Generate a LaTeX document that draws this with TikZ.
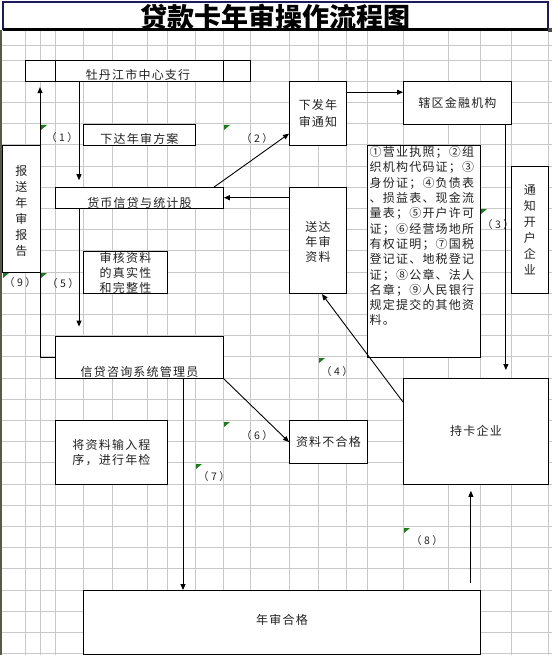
\documentclass[tikz,border=0pt]{standalone}
\usepackage{fontspec}
\setmainfont{Noto Sans CJK SC}
\newfontfamily\bodyfam[LetterSpace=10]{Noto Sans CJK SC}
\newfontfamily\titlefam{Noto Sans CJK SC}
\usetikzlibrary{arrows.meta,calc}
\definecolor{gridc}{HTML}{C8C8C8}
\definecolor{navyc}{HTML}{1C1C5C}
\definecolor{markc}{HTML}{1E7A1E}
\definecolor{txtc}{HTML}{222222}
\definecolor{edgec}{HTML}{5A5A44}
\newcommand\stepno[1]{（\kern2.5pt#1\kern2.5pt）}
\begin{document}
\begin{tikzpicture}[x=1pt,y=-1pt,
  box/.style={draw=black,line width=0.9pt,fill=white,inner sep=0pt,anchor=north west},
  txt/.style={text=txtc,font=\bodyfam\fontsize{12}{15.5}\selectfont,align=center,inner sep=0pt},
  num/.style={text=txtc,font=\fontsize{10.5}{12}\selectfont,inner sep=0pt},
  arr/.style={draw=black,line width=0.9pt,-{Triangle[length=6pt,width=5pt]}},
  cmark/.style={fill=markc},
  gridline/.style={draw=gridc,line width=0.8pt}]
\useasboundingbox (0,0) rectangle (552,655);
\fill[white] (0,0) rectangle (552,655);
% grid
\foreach \cx in {25,40,55,83,112,147,167,195,223,250,289,318,346,367,403,448,480,511,548}
  \draw[gridline] (\cx,30) -- (\cx,655);
\draw[gridline] (2,45) -- (552,45);
\foreach \k in {0,...,28}
  \draw[gridline] (2,{60+21.2*\k}) -- (552,{60+21.2*\k});
\draw[edgec,line width=1.5pt] (1,30) -- (1,655);
% title
\draw[navyc,line width=2pt] (3,2) rectangle (548,29.5);
\draw[black,line width=2.5pt] (3,29.5) -- (549,29.5);
\fill[black!70] (548,28) rectangle (552,32);
\node[font=\titlefam\bfseries\fontsize{27}{28}\selectfont,text=black,inner sep=0pt] (title) at (275,17) {贷款卡年审操作流程图};
% boxes
\node[box,minimum width=225pt,minimum height=21.2pt] (zhihang) at (25,60) {};
\draw[line width=0.9pt] ([xshift=30pt]zhihang.north west) -- ([xshift=30pt]zhihang.south west);
\draw[line width=0.9pt] ([xshift=-27pt]zhihang.north east) -- ([xshift=-27pt]zhihang.south east);
\node[txt] (zhihangt) at ([yshift=-3.5pt]zhihang.center) {牡丹江市中心支行};
\node[box,minimum width=112pt,minimum height=21.2pt] (xiada) at (83,123.6) {};
\node[txt] (xiadat) at ([yshift=-4pt]xiada.center) {下达年审方案};
\node[box,minimum width=38pt,minimum height=127.2pt] (baosong) at (2,144.8) {};
\node[txt,font=\bodyfam\fontsize{12}{16}\selectfont] (baosongt) at ([yshift=-2.5pt]baosong.center) {报\\送\\年\\审\\报\\告};
\node[box,minimum width=168pt,minimum height=21.2pt] (huobi) at (55,187.2) {};
\node[txt] (huobit) at ([yshift=-4.5pt]huobi.center) {货币信贷与统计股};
\node[box,minimum width=57pt,minimum height=63.6pt] (xiafa) at (289,81.2) {};
\node[txt,font=\bodyfam\fontsize{12}{17}\selectfont] (xiafat) at (xiafa.center) {下发年\\审通知};
\node[box,minimum width=108pt,minimum height=42.4pt] (xiaqu) at (403,81.2) {};
\node[txt] (xiaqut) at (xiaqu.center) {辖区金融机构};
\node[box,minimum width=113pt,minimum height=212pt] (docs) at (367,144.8) {};
\node[txt,anchor=north west,align=left,font=\bodyfam\fontsize{12}{15.3}\selectfont] (docst) at ([xshift=2.5pt,yshift=-1.5pt]docs.north west) {①营业执照；②组\\织机构代码证；③\\身份证；④负债表\\、损益表、现金流\\量表；⑤开户许可\\证；⑥经营场地所\\有权证明；⑦国税\\登记证、地税登记\\证；⑧公章、法人\\名章；⑨人民银行\\规定提交的其他资\\料。};
\node[box,minimum width=57pt,minimum height=106pt] (songda) at (289,187.2) {};
\node[txt,font=\bodyfam\fontsize{12}{15}\selectfont] (songdat) at ([yshift=-1.5pt]songda.center) {送达\\年审\\资料};
\node[box,minimum width=37pt,minimum height=127.2pt] (tongzhi) at (511,166) {};
\node[txt,font=\bodyfam\fontsize{12}{16}\selectfont] (tongzhit) at (tongzhi.center) {通\\知\\开\\户\\企\\业};
\node[box,minimum width=84pt,minimum height=42.4pt] (shenhe) at (83,250.8) {};
\node[txt,font=\bodyfam\fontsize{12}{15}\selectfont] (shenhet) at (shenhe.center) {审核资料\\的真实性\\和完整性};
\node[box,minimum width=168pt,minimum height=42.4pt] (xindai) at (55,335.6) {};
\node[txt] (xindait) at ([yshift=-15pt]xindai.center) {信贷咨询系统管理员};
\node[box,minimum width=78pt,minimum height=42.4pt] (buhege) at (289,420.4) {};
\node[txt] (buheget) at (buhege.center) {资料不合格};
\node[box,minimum width=112pt,minimum height=63.6pt] (shuru) at (55,420.4) {};
\node[txt,font=\bodyfam\fontsize{12}{14.5}\selectfont] (shurut) at (shuru.center) {将资料输入程\\序，进行年检};
\node[box,minimum width=145pt,minimum height=106pt] (chika) at (403,378) {};
\node[txt] (chikat) at ([yshift=1pt]chika.center) {持卡企业};
\node[box,minimum width=397pt,minimum height=63.6pt] (hege) at (83,590) {};
\node[txt] (heget) at ([yshift=2pt]hege.center) {年审合格};
% connectors
\draw[arr,shorten >=7pt] ([xshift=54pt]zhihang.south west) -- ([xshift=24pt]huobi.north west);
\draw[arr] (xindai.west) -| ([xshift=15pt,yshift=-5pt]zhihang.south west);
\draw[arr] ([xshift=-10pt]huobi.north east) -- ([yshift=12pt]xiafa.south west);
\draw[arr] ([yshift=-11pt]xiafa.north east) -- ([yshift=-11pt]xiaqu.north west);
\coordinate (p3) at ([xshift=-6pt]xiaqu.south east);
\draw[arr,shorten >=8pt] (p3) -- (p3 |- chika.north);
\coordinate (p4) at ([yshift=-10.5pt]songda.north west);
\draw[arr] (p4) -- (p4 -| huobi.east);
\draw[arr] ([yshift=-24pt]chika.north west) -- ([xshift=4pt]songda.south);
\draw[arr,shorten >=9pt] ([xshift=24pt]huobi.south west) -- ([xshift=24pt]xindai.north west);
\draw[arr] (xindai.south east) -- (buhege.west);
\coordinate (p7) at ([xshift=128pt]xindai.south west);
\draw[arr] (p7) -- (p7 |- hege.north);
\coordinate (p8) at ([xshift=-10pt]hege.north east);
\draw[arr,shorten <=7pt,shorten >=6pt] (p8) -- (p8 |- chika.south);
% step labels
\node[num] (n1) at (62,138) {\stepno{1}};
\node[num] (n2) at (257,139) {\stepno{2}};
\node[num] (n3) at (498,225) {\stepno{3}};
\node[num] (n4) at (337,372) {\stepno{4}};
\node[num] (n5) at (63,284) {\stepno{5}};
\node[num] (n6) at (257,436) {\stepno{6}};
\node[num] (n7) at (214,477) {\stepno{7}};
\node[num] (n8) at (427,541) {\stepno{8}};
\node[num] (n9) at (20,283) {\stepno{9}};
% green cell marks
\foreach \mx/\my in {41/125,224/125,3/273,41/273,481/209,319/358,224/422,196/464,404/528}
  \fill[cmark] (\mx,\my) -- ++(6,0) -- ++(-6,5) -- cycle;
\end{tikzpicture}
\end{document}
